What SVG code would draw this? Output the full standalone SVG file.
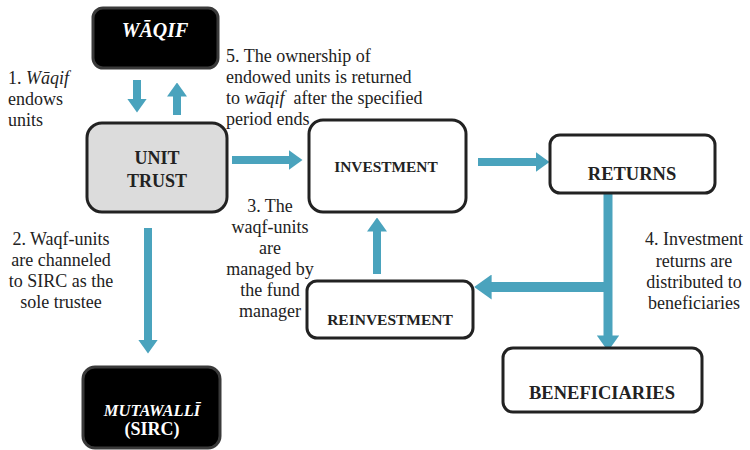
<svg xmlns="http://www.w3.org/2000/svg" width="750" height="450" viewBox="0 0 750 450">
<style>
.box{fill:#fff;stroke:#222;stroke-width:3}
.dark{fill:#000;stroke:#3a3a3a;stroke-width:3}
.gray{fill:#dcdcdc;stroke:#222;stroke-width:3}
text{font-family:'Liberation Serif','Times New Roman','DejaVu Serif',serif}
.lbl{font-weight:bold;fill:#222;text-anchor:middle}
.wl{font-weight:bold;fill:#fff;text-anchor:middle}
.t{font-size:18px;fill:#222}
.c{text-anchor:middle}
.ar{stroke:#4aa3bd;fill:none;marker-end:url(#ah)}
</style>
<defs>
<marker id="ah" viewBox="0 0 14 20" markerWidth="1.75" markerHeight="2.5" refX="0.5" refY="10" orient="auto" markerUnits="strokeWidth">
<path d="M0,0 L14,10 L0,20 Z" fill="#4aa3bd"/>
</marker>
</defs>
<g id="connectors">
<line class="ar" x1="137" y1="80" x2="137" y2="99" stroke-width="8"/>
<line class="ar" x1="177" y1="115" x2="177" y2="96" stroke-width="8"/>
<line class="ar" x1="232" y1="160" x2="289" y2="160" stroke-width="8"/>
<line class="ar" x1="148" y1="228" x2="148" y2="340" stroke-width="8"/>
<line class="ar" x1="478" y1="162" x2="536" y2="162" stroke-width="8"/>
<line class="ar" x1="608" y1="187" x2="608" y2="336" stroke-width="9"/>
<line class="ar" x1="612" y1="287" x2="491" y2="287" stroke-width="10"/>
<line class="ar" x1="377" y1="274" x2="377" y2="231" stroke-width="8"/>
</g>
<g id="waqif">
<rect class="dark" x="93" y="8" width="125" height="60" rx="10"/>
<text class="wl" x="155" y="37" font-size="20" font-style="italic">WĀQIF</text>
</g>
<g id="unit-trust">
<rect class="gray" x="87" y="123" width="140" height="89" rx="15"/>
<text class="lbl" x="157" y="164" font-size="18">UNIT</text>
<text class="lbl" x="157" y="187" font-size="18">TRUST</text>
</g>
<g id="mutawalli">
<rect class="dark" x="83" y="367" width="137" height="81" rx="12"/>
<text class="wl" x="152" y="416" font-size="16.5" font-style="italic">MUTAWALLĪ</text>
<text class="wl" x="152" y="435" font-size="18">(SIRC)</text>
</g>
<g id="investment">
<rect class="box" x="309" y="120" width="157" height="92" rx="14"/>
<text class="lbl" x="386" y="172" font-size="15.4">INVESTMENT</text>
</g>
<g id="returns">
<rect class="box" x="550" y="135" width="165" height="58" rx="10"/>
<text class="lbl" x="632" y="180" font-size="18.5">RETURNS</text>
</g>
<g id="reinvestment">
<rect class="box" x="307" y="281" width="166" height="57" rx="10"/>
<text class="lbl" x="390" y="325" font-size="15.5">REINVESTMENT</text>
</g>
<g id="beneficiaries">
<rect class="box" x="503" y="348" width="199" height="64" rx="10"/>
<text class="lbl" x="602" y="399" font-size="18.5">BENEFICIARIES</text>
</g>
<g id="labels">
<text class="t" x="8" y="84">1. <tspan font-style="italic">Wāqif</tspan></text>
<text class="t" x="8" y="105">endows</text>
<text class="t" x="8" y="126">units</text>
<text class="t c" x="61" y="245">2. Waqf-units</text>
<text class="t c" x="61" y="266">are channeled</text>
<text class="t c" x="61" y="287">to SIRC as the</text>
<text class="t c" x="61" y="308">sole trustee</text>
<text class="t" x="226" y="62">5. The ownership of</text>
<text class="t" x="226" y="83">endowed units is returned</text>
<text class="t" x="226" y="104" xml:space="preserve">to <tspan font-style="italic">wāqif</tspan>  after the specified</text>
<text class="t" x="226" y="125">period ends</text>
<text class="t c" x="270" y="212">3. The</text>
<text class="t c" x="270" y="233">waqf-units</text>
<text class="t c" x="270" y="254">are</text>
<text class="t c" x="270" y="275">managed by</text>
<text class="t c" x="270" y="296">the fund</text>
<text class="t c" x="270" y="317">manager</text>
<text class="t c" x="694" y="245">4. Investment</text>
<text class="t c" x="694" y="267">returns are</text>
<text class="t c" x="694" y="288">distributed to</text>
<text class="t c" x="694" y="309">beneficiaries</text>
</g>
</svg>
